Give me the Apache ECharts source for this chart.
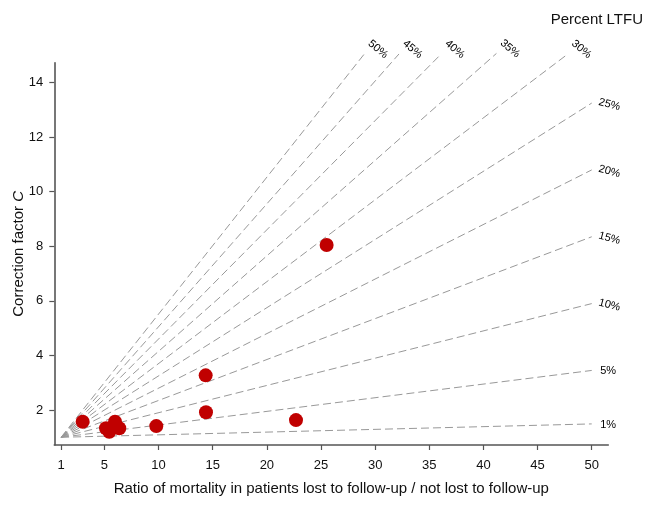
<!DOCTYPE html>
<html><head><meta charset="utf-8">
<script src="https://cdn.jsdelivr.net/npm/echarts@6/dist/echarts.min.js"></script>
<style>html,body{margin:0;padding:0;background:#fff}#c{width:656px;height:507px}</style>
</head><body><div id="c"></div>
<script>
// Reference lines (percent LTFU): start at (1,1), end points
const ltfuLabels = ['1%','5%','10%','15%','20%','25%','30%','35%','40%','45%','50%'];
const lineEndX = [50, 50, 50, 50, 50, 50, 47.8, 41.2, 36.1, 32.2, 29.0];
const lineEndY = [1.49, 3.45, 5.9, 8.35, 10.8, 13.25, 15.05, 15.07, 15.05, 15.05, 15.05];
// Study points
const ratioX = [2.99, 5.15, 5.45, 5.98, 6.37, 9.79, 14.35, 14.38, 22.69, 25.52];
const corrY  = [1.57, 1.33, 1.20, 1.57, 1.33, 1.41, 3.27, 1.92, 1.63, 8.05];
// Ticks
const xTicks = [1, 5, 10, 15, 20, 25, 30, 35, 40, 45, 50];
const yTicks = [2, 4, 6, 8, 10, 12, 14];

const FONT = 'Liberation Sans, Arial, sans-serif';
const series = [];
ltfuLabels.forEach((lab, i) => {
  series.push({
    type: 'line', name: lab, data: [[1, 1], [lineEndX[i], lineEndY[i]]],
    showSymbol: false, clip: false, silent: true,
    lineStyle: { color: '#999', width: 1, type: [8, 4] }, z: 1
  });
});
const labelData = ltfuLabels.map((lab, i) => {
  let rot = 0, off = [8, 1];
  if (i >= 2 && i <= 5) { rot = -15; off = [6, -3]; }
  if (i >= 6) { rot = -40; off = [-4, -12]; }
  return { value: [lineEndX[i], lineEndY[i]], name: lab,
    label: { rotate: rot, offset: off } };
});
series.push({
  type: 'scatter', data: labelData, symbol: 'circle', symbolSize: 1, clip: false, silent: true,
  itemStyle: { color: 'rgba(0,0,0,0)' },
  label: { show: true, position: 'right', distance: 0, align: 'left', verticalAlign: 'middle',
    formatter: p => p.name, fontSize: 11, color: '#000', opacity: 1, fontFamily: FONT }
});
series.push({
  type: 'scatter', data: ratioX.map((x, i) => [x, corrY[i]]),
  symbol: 'circle', symbolSize: 14, itemStyle: { color: '#c00000', opacity: 1 }, z: 5
});

const chart = echarts.init(document.getElementById('c'), null, { renderer: 'canvas' });
chart.setOption({
  animation: false,
  backgroundColor: '#fff',
  title: { text: 'Percent LTFU', right: 8, top: 7,
    textStyle: { fontSize: 15, fontWeight: 'normal', color: '#111', fontFamily: FONT } },
  grid: { left: 54.3, right: 47.7, top: 62.7, bottom: 62, containLabel: false, outerBoundsMode: 'none' },
  xAxis: {
    type: 'value', min: 0.372, max: 51.53,
    name: 'Ratio of mortality in patients lost to follow-up / not lost to follow-up',
    nameLocation: 'middle', nameGap: 36, nameMoveOverlap: false,
    nameTextStyle: { fontSize: 15, color: '#111', fontFamily: FONT },
    axisLine: { show: true, onZero: false, lineStyle: { color: '#555', width: 1.6 } },
    axisTick: { show: true, length: 5, customValues: xTicks, lineStyle: { color: '#555', width: 1.2 } },
    axisLabel: { customValues: xTicks, fontSize: 13, color: '#111', margin: 14, fontFamily: FONT },
    splitLine: { show: false }
  },
  yAxis: {
    type: 'value', min: 0.717, max: 14.73,
    name: '{a|Correction factor }{i|C}',
    nameLocation: 'middle', nameGap: 28, nameRotate: 90, nameMoveOverlap: false,
    nameTextStyle: { fontSize: 15, color: '#111', fontFamily: FONT,
      rich: { a: { fontSize: 15, color: '#111', fontFamily: FONT },
              i: { fontSize: 15, color: '#111', fontFamily: FONT, fontStyle: 'italic' } } },
    axisLine: { show: true, onZero: false, lineStyle: { color: '#555', width: 1.6 } },
    axisTick: { show: true, length: 5, customValues: yTicks, lineStyle: { color: '#555', width: 1.2 } },
    axisLabel: { customValues: yTicks, fontSize: 13, color: '#111', margin: 11, fontFamily: FONT },
    splitLine: { show: false }
  },
  series: series
});
</script></body></html>
